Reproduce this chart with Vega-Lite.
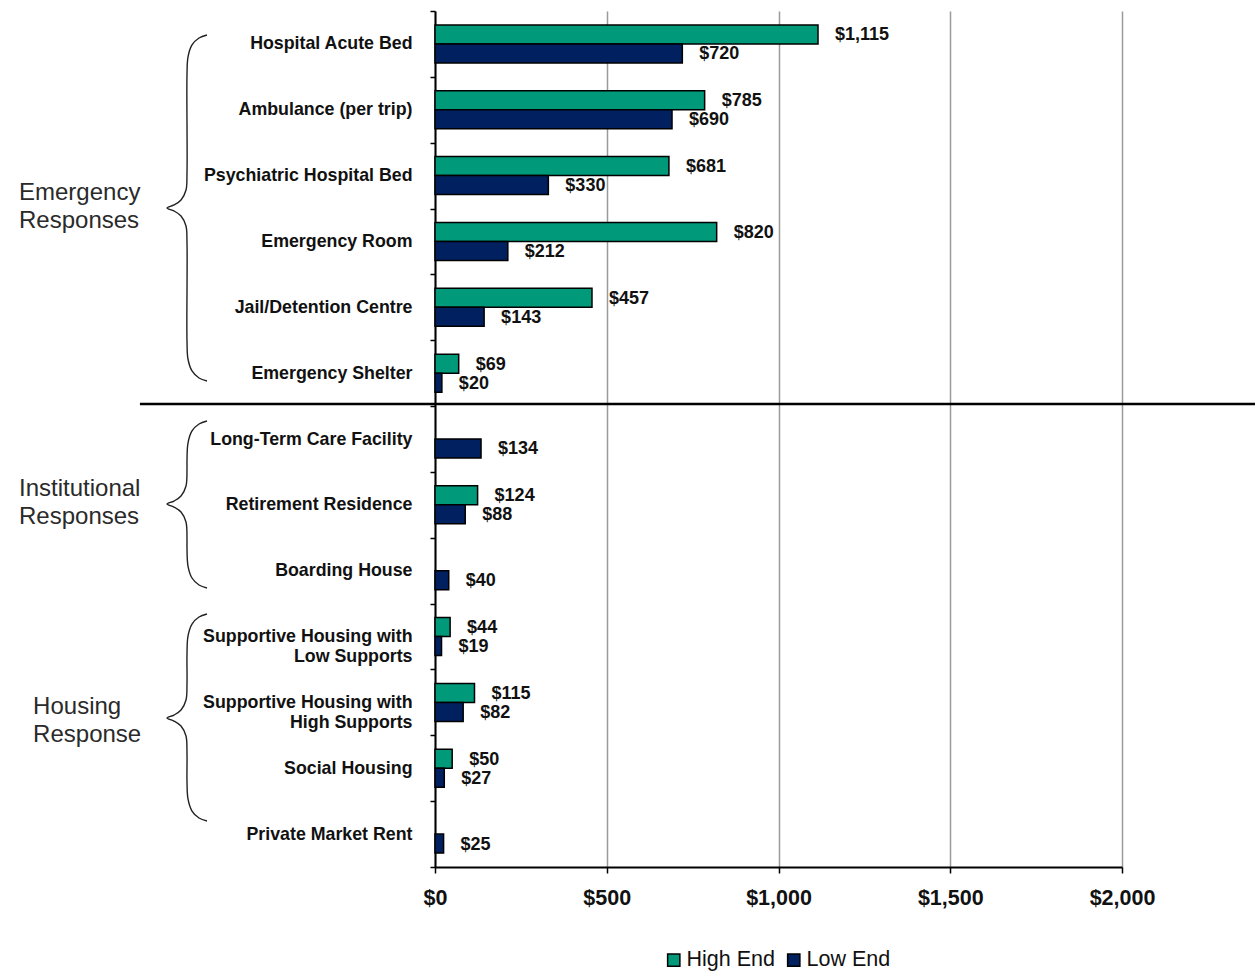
{
  "$schema": "https://vega.github.io/schema/vega-lite/v6.json",
  "width": 687,
  "height": 856,
  "padding": {"left": 19, "top": 2, "right": 0, "bottom": 0},
  "background": "white",
  "config": {
    "view": {"stroke": null},
    "font": "Liberation Sans",
    "text": {"font": "Liberation Sans"},
    "lineBreak": "\n"
  },
  "datasets": {
    "costs": [
      {"cat": "Hospital Acute Bed", "series": "High End", "value": 1115},
      {"cat": "Hospital Acute Bed", "series": "Low End", "value": 720},
      {"cat": "Ambulance (per trip)", "series": "High End", "value": 785},
      {"cat": "Ambulance (per trip)", "series": "Low End", "value": 690},
      {"cat": "Psychiatric Hospital Bed", "series": "High End", "value": 681},
      {"cat": "Psychiatric Hospital Bed", "series": "Low End", "value": 330},
      {"cat": "Emergency Room", "series": "High End", "value": 820},
      {"cat": "Emergency Room", "series": "Low End", "value": 212},
      {"cat": "Jail/Detention Centre", "series": "High End", "value": 457},
      {"cat": "Jail/Detention Centre", "series": "Low End", "value": 143},
      {"cat": "Emergency Shelter", "series": "High End", "value": 69},
      {"cat": "Emergency Shelter", "series": "Low End", "value": 20},
      {"cat": "Long-Term Care Facility", "series": "Low End", "value": 134},
      {"cat": "Retirement Residence", "series": "High End", "value": 124},
      {"cat": "Retirement Residence", "series": "Low End", "value": 88},
      {"cat": "Boarding House", "series": "Low End", "value": 40},
      {"cat": "Supportive Housing with|Low Supports", "series": "High End", "value": 44},
      {"cat": "Supportive Housing with|Low Supports", "series": "Low End", "value": 19},
      {"cat": "Supportive Housing with|High Supports", "series": "High End", "value": 115},
      {"cat": "Supportive Housing with|High Supports", "series": "Low End", "value": 82},
      {"cat": "Social Housing", "series": "High End", "value": 50},
      {"cat": "Social Housing", "series": "Low End", "value": 27},
      {"cat": "Private Market Rent", "series": "Low End", "value": 25}
    ],
    "separator": [
      {"x": -859, "x2": 2392, "y": 5.97}
    ],
    "groups": [
      {"label": "Emergency\nResponses", "x": -1211, "y": 2.764},
      {"label": "Institutional\nResponses", "x": -1211, "y": 7.259},
      {"label": "Housing\nResponse", "x": -1170, "y": 10.57}
    ],
    "braces": [
      {"brace": "E", "ord": 0, "x": -663.8, "y": 0.3645},
      {"brace": "E", "ord": 1, "x": -687.0, "y": 0.410},
      {"brace": "E", "ord": 2, "x": -707.4, "y": 0.516},
      {"brace": "E", "ord": 3, "x": -719.1, "y": 0.699},
      {"brace": "E", "ord": 4, "x": -722.0, "y": 0.972},
      {"brace": "E", "ord": 5, "x": -722.0, "y": 2.460},
      {"brace": "E", "ord": 6, "x": -724.9, "y": 2.718},
      {"brace": "E", "ord": 7, "x": -739.4, "y": 2.870},
      {"brace": "E", "ord": 8, "x": -759.8, "y": 2.946},
      {"brace": "E", "ord": 9, "x": -780.2, "y": 2.992},
      {"brace": "E", "ord": 10, "x": -759.8, "y": 3.037},
      {"brace": "E", "ord": 11, "x": -739.4, "y": 3.113},
      {"brace": "E", "ord": 12, "x": -724.9, "y": 3.265},
      {"brace": "E", "ord": 13, "x": -722.0, "y": 3.523},
      {"brace": "E", "ord": 14, "x": -722.0, "y": 5.012},
      {"brace": "E", "ord": 15, "x": -719.1, "y": 5.285},
      {"brace": "E", "ord": 16, "x": -707.4, "y": 5.467},
      {"brace": "E", "ord": 17, "x": -687.0, "y": 5.574},
      {"brace": "E", "ord": 18, "x": -663.8, "y": 5.619},
      {"brace": "I", "ord": 0, "x": -663.8, "y": 6.227},
      {"brace": "I", "ord": 1, "x": -687.0, "y": 6.272},
      {"brace": "I", "ord": 2, "x": -707.4, "y": 6.378},
      {"brace": "I", "ord": 3, "x": -719.1, "y": 6.561},
      {"brace": "I", "ord": 4, "x": -722.0, "y": 6.834},
      {"brace": "I", "ord": 5, "x": -722.0, "y": 6.956},
      {"brace": "I", "ord": 6, "x": -724.9, "y": 7.214},
      {"brace": "I", "ord": 7, "x": -739.4, "y": 7.366},
      {"brace": "I", "ord": 8, "x": -759.8, "y": 7.442},
      {"brace": "I", "ord": 9, "x": -780.2, "y": 7.487},
      {"brace": "I", "ord": 10, "x": -759.8, "y": 7.533},
      {"brace": "I", "ord": 11, "x": -739.4, "y": 7.609},
      {"brace": "I", "ord": 12, "x": -724.9, "y": 7.761},
      {"brace": "I", "ord": 13, "x": -722.0, "y": 8.019},
      {"brace": "I", "ord": 14, "x": -722.0, "y": 8.156},
      {"brace": "I", "ord": 15, "x": -719.1, "y": 8.429},
      {"brace": "I", "ord": 16, "x": -707.4, "y": 8.611},
      {"brace": "I", "ord": 17, "x": -687.0, "y": 8.717},
      {"brace": "I", "ord": 18, "x": -663.8, "y": 8.763},
      {"brace": "H", "ord": 0, "x": -663.8, "y": 9.158},
      {"brace": "H", "ord": 1, "x": -687.0, "y": 9.203},
      {"brace": "H", "ord": 2, "x": -707.4, "y": 9.310},
      {"brace": "H", "ord": 3, "x": -719.1, "y": 9.492},
      {"brace": "H", "ord": 4, "x": -722.0, "y": 9.765},
      {"brace": "H", "ord": 5, "x": -722.0, "y": 10.206},
      {"brace": "H", "ord": 6, "x": -724.9, "y": 10.464},
      {"brace": "H", "ord": 7, "x": -739.4, "y": 10.616},
      {"brace": "H", "ord": 8, "x": -759.8, "y": 10.692},
      {"brace": "H", "ord": 9, "x": -780.2, "y": 10.737},
      {"brace": "H", "ord": 10, "x": -759.8, "y": 10.783},
      {"brace": "H", "ord": 11, "x": -739.4, "y": 10.859},
      {"brace": "H", "ord": 12, "x": -724.9, "y": 11.011},
      {"brace": "H", "ord": 13, "x": -722.0, "y": 11.269},
      {"brace": "H", "ord": 14, "x": -722.0, "y": 11.694},
      {"brace": "H", "ord": 15, "x": -719.1, "y": 11.967},
      {"brace": "H", "ord": 16, "x": -707.4, "y": 12.150},
      {"brace": "H", "ord": 17, "x": -687.0, "y": 12.256},
      {"brace": "H", "ord": 18, "x": -663.8, "y": 12.302}
    ]
  },
  "resolve": {"scale": {"y": "independent"}},
  "layer": [
    {
      "data": {"name": "costs"},
      "mark": {"type": "bar", "stroke": "black", "strokeWidth": 1.5},
      "encoding": {
        "y": {
          "field": "cat", "type": "nominal",
          "sort": ["Hospital Acute Bed", "Ambulance (per trip)", "Psychiatric Hospital Bed", "Emergency Room", "Jail/Detention Centre", "Emergency Shelter", "Long-Term Care Facility", "Retirement Residence", "Boarding House", "Supportive Housing with|Low Supports", "Supportive Housing with|High Supports", "Social Housing", "Private Market Rent"],
          "scale": {"paddingInner": 0, "paddingOuter": 0},
          "axis": {
            "title": null,
            "labelExpr": "split(datum.label, '|')",
            "labelFont": "Liberation Sans",
            "labelFontSize": 17.8,
            "labelFontWeight": "bold",
            "labelColor": "#111",
            "labelLineHeight": 20,
            "labelPadding": 18,
            "labelLimit": 400,
            "tickBand": "extent",
            "tickSize": 5,
            "tickColor": "black",
            "tickWidth": 1.5,
            "domainColor": "black",
            "domainWidth": 2,
            "grid": false
          }
        },
        "yOffset": {
          "field": "series", "type": "nominal",
          "scale": {"domain": ["High End", "Low End"], "paddingInner": 0, "paddingOuter": 0.733}
        },
        "x": {
          "field": "value", "type": "quantitative",
          "scale": {"domain": [0, 2000], "nice": false, "zero": true},
          "axis": {
            "title": null,
            "values": [0, 500, 1000, 1500, 2000],
            "format": "$,.0f",
            "labelFont": "Liberation Sans",
            "labelFontSize": 21.5,
            "labelFontWeight": "bold",
            "labelColor": "#111",
            "labelFlush": false,
            "labelPadding": 14,
            "tickSize": 6,
            "tickColor": "black",
            "tickWidth": 1.5,
            "domainColor": "black",
            "domainWidth": 2,
            "grid": true,
            "gridColor": "#9a9a9a",
            "gridWidth": 1.5
          }
        },
        "color": {
          "field": "series", "type": "nominal",
          "scale": {"domain": ["High End", "Low End"], "range": ["#00997a", "#002060"]},
          "legend": {
            "title": null,
            "orient": "none",
            "legendX": 228,
            "legendY": 938,
            "direction": "horizontal",
            "symbolType": "square",
            "symbolSize": 150,
            "symbolStrokeColor": "black",
            "symbolStrokeWidth": 1.5,
            "labelFont": "Liberation Sans",
            "labelFontSize": 21.5,
            "labelColor": "#111",
            "labelOffset": 2,
            "columnPadding": 8
          }
        }
      }
    },
    {
      "data": {"name": "costs"},
      "mark": {"type": "text", "align": "left", "baseline": "middle", "dx": 17, "dy": 1, "font": "Liberation Sans", "fontSize": 18, "fontWeight": "bold", "color": "#111"},
      "encoding": {
        "y": {
          "field": "cat", "type": "nominal",
          "sort": ["Hospital Acute Bed", "Ambulance (per trip)", "Psychiatric Hospital Bed", "Emergency Room", "Jail/Detention Centre", "Emergency Shelter", "Long-Term Care Facility", "Retirement Residence", "Boarding House", "Supportive Housing with|Low Supports", "Supportive Housing with|High Supports", "Social Housing", "Private Market Rent"],
          "scale": {"paddingInner": 0, "paddingOuter": 0},
          "axis": null
        },
        "yOffset": {
          "field": "series", "type": "nominal",
          "scale": {"domain": ["High End", "Low End"], "paddingInner": 0, "paddingOuter": 0.733}
        },
        "x": {"field": "value", "type": "quantitative"},
        "text": {"field": "value", "type": "quantitative", "format": "$,.0f"}
      }
    },
    {
      "data": {"name": "separator"},
      "mark": {"type": "rule", "color": "black", "strokeWidth": 2.5},
      "encoding": {
        "x": {"field": "x", "type": "quantitative"},
        "x2": {"field": "x2"},
        "y": {"field": "y", "type": "quantitative", "scale": {"domain": [13, 0], "nice": false, "zero": false}, "axis": null}
      }
    },
    {
      "data": {"name": "braces"},
      "mark": {"type": "line", "interpolate": "catmull-rom", "color": "#222", "strokeWidth": 1.4},
      "encoding": {
        "x": {"field": "x", "type": "quantitative"},
        "y": {"field": "y", "type": "quantitative", "scale": {"domain": [13, 0], "nice": false, "zero": false}, "axis": null},
        "detail": {"field": "brace", "type": "nominal"},
        "order": {"field": "ord", "type": "quantitative"}
      }
    },
    {
      "data": {"name": "groups"},
      "mark": {"type": "text", "align": "left", "baseline": "middle", "font": "Liberation Sans", "fontSize": 24, "lineHeight": 28, "color": "#2a2a2a"},
      "encoding": {
        "x": {"field": "x", "type": "quantitative"},
        "y": {"field": "y", "type": "quantitative", "scale": {"domain": [13, 0], "nice": false, "zero": false}, "axis": null},
        "text": {"field": "label", "type": "nominal"}
      }
    }
  ]
}
